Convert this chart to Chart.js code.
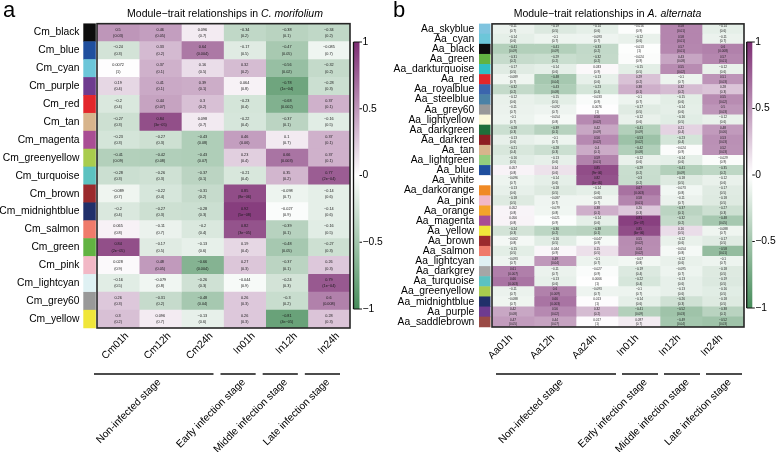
<!DOCTYPE html>
<html><head><meta charset="utf-8">
<script src="https://cdn.jsdelivr.net/npm/chart.js@4.4.1/dist/chart.umd.min.js"></script>
<style>
html,body{margin:0;padding:0;background:#fff;}
#wrap{position:relative;width:777px;height:452px;overflow:hidden;background:#fff;}
canvas{position:absolute;top:0;}
#ca{left:0;} #cb{left:390px;}
</style></head><body>
<div id="wrap"><canvas id="ca" width="390" height="452"></canvas><canvas id="cb" width="387" height="452"></canvas></div>
<script>
// ---------------- Panel a data (C. morifolium) ----------------
const modulesA = ['Cm_black','Cm_blue','Cm_cyan','Cm_purple','Cm_red','Cm_tan','Cm_magenta','Cm_greenyellow','Cm_turquoise','Cm_brown','Cm_midnightblue','Cm_salmon','Cm_green','Cm_pink','Cm_lightcyan','Cm_grey60','Cm_yellow'];
const moduleColorsA = ['#0d0d0d','#1f4f9e','#6cc6d9','#6e3b8f','#e3262b','#d7b48c','#a94d94','#a9cc4e','#5cc2c0','#9b2a2d','#21306a','#ef7b6b','#62b342','#f2b8c6','#dff1f3','#999999','#f0e63a'];
const traitsA = ['Cm01h','Cm12h','Cm24h','In01h','In12h','In24h'];
const rA_Cm01h = [0.5,-0.24,0.0072,0.19,-0.2,-0.27,-0.23,-0.41,-0.28,-0.089,-0.2,0.065,0.84,0.028,-0.16,0.26,0.3];
const pA_Cm01h = ['0.03','0.3','1','0.4','0.4','0.3','0.3','0.09','0.3','0.7','0.4','0.8','2e−05','0.9','0.5','0.3','0.2'];
const rA_Cm12h = [0.46,0.33,0.37,0.41,0.44,0.84,-0.27,-0.42,-0.26,-0.22,-0.27,-0.11,-0.17,0.48,-0.079,-0.31,0.096];
const pA_Cm12h = ['0.05','0.2','0.1','0.1','0.07','3e−05','0.3','0.08','0.3','0.4','0.3','0.7','0.5','0.05','0.8','0.2','0.7'];
const rA_Cm24h = [0.096,0.64,0.16,0.39,0.3,0.098,-0.43,-0.43,-0.37,-0.31,-0.28,-0.2,-0.13,-0.66,-0.26,-0.48,-0.13];
const pA_Cm24h = ['0.7','0.004','0.5','0.1','0.2','0.7','0.08','0.07','0.1','0.2','0.3','0.4','0.6','0.004','0.3','0.04','0.6'];
const rA_In01h = [-0.34,-0.17,0.32,0.064,-0.23,-0.22,0.46,0.23,-0.21,0.85,0.92,0.82,0.19,0.27,-0.044,0.26,0.26];
const pA_In01h = ['0.2','0.5','0.2','0.8','0.4','0.4','0.06','0.4','0.4','8e−06','5e−08','3e−05','0.4','0.3','0.9','0.3','0.3'];
const rA_In12h = [-0.38,-0.47,-0.56,-0.78,-0.68,-0.37,0.1,0.66,0.35,-0.098,-0.027,-0.39,-0.48,-0.37,-0.24,-0.3,-0.81];
const pA_In12h = ['0.1','0.05','0.02','1e−04','0.002','0.1','0.7','0.003','0.2','0.7','0.9','0.1','0.05','0.1','0.3','0.2','4e−05'];
const rA_In24h = [-0.34,-0.085,-0.32,-0.28,0.37,-0.16,0.37,0.37,0.77,-0.14,-0.14,-0.16,-0.27,0.26,0.79,0.6,0.28];
const pA_In24h = ['0.2','0.7','0.2','0.3','0.1','0.5','0.1','0.1','2e−04','0.6','0.6','0.5','0.3','0.3','1e−04','0.008','0.3'];

// ---------------- Panel b data (A. alternata) ----------------
const modulesB = ['Aa_skyblue','Aa_cyan','Aa_black','Aa_green','Aa_darkturquoise','Aa_red','Aa_royalblue','Aa_steelblue','Aa_grey60','Aa_lightyellow','Aa_darkgreen','Aa_darkred','Aa_tan','Aa_lightgreen','Aa_blue','Aa_white','Aa_darkorange','Aa_pink','Aa_orange','Aa_magenta','Aa_yellow','Aa_brown','Aa_salmon','Aa_lightcyan','Aa_darkgrey','Aa_turquoise','Aa_greenyellow','Aa_midnightblue','Aa_purple','Aa_saddlebrown'];
const moduleColorsB = ['#7fc4df','#6cc6d9','#0d0d0d','#62b342','#2fbfc4','#e3262b','#3b65ad','#4a82a6','#999999','#fbf8d9','#1f6e3a','#8e1c22','#d7b48c','#93cd7e','#1f4f9e','#ffffff','#f08a25','#f2b8c6','#f4a32a','#a94d94','#f0e63a','#9b2a2d','#ef7b6b','#dff1f3','#a6a6a6','#5cc2c0','#a9cc4e','#21306a','#6e3b8f','#9a4a45'];
const traitsB = ['Aa01h','Aa12h','Aa24h','In01h','In12h','In24h'];
const rB_Aa01h = [-0.11,-0.14,-0.41,-0.31,-0.17,-0.089,-0.32,-0.12,-0.11,-0.1,-0.28,-0.13,-0.21,-0.16,0.057,-0.096,-0.13,-0.18,0.052,0.056,-0.24,-0.062,-0.15,-0.093,0.61,0.66,-0.11,-0.088,0.42,0.47];
const pB_Aa01h = ['0.7','0.6','0.09','0.2','0.5','0.7','0.2','0.6','0.7','0.7','0.3','0.6','0.4','0.5','0.8','0.7','0.6','0.5','0.8','0.8','0.3','0.8','0.5','0.7','0.007','0.003','0.7','0.7','0.08','0.05'];
const rB_Aa12h = [-0.19,-0.1,-0.41,-0.29,-0.14,-0.48,-0.43,-0.15,-0.092,-0.054,-0.39,-0.1,-0.28,-0.13,0.14,-0.14,-0.18,-0.087,-0.079,-0.021,-0.36,-0.16,0.044,0.49,-0.11,-0.13,0.6,0.66,0.56,0.44];
const pB_Aa12h = ['0.5','0.7','0.09','0.2','0.6','0.04','0.08','0.5','0.7','0.8','0.1','0.7','0.3','0.6','0.6','0.6','0.5','0.7','0.8','0.9','0.2','0.5','0.9','0.04','0.7','0.6','0.009','0.003','0.02','0.07'];
const rB_Aa24h = [-0.14,-0.093,-0.33,-0.32,0.033,-0.13,-0.23,-0.033,0.0076,0.56,0.42,0.56,0.4,0.59,0.85,0.82,-0.14,-0.083,0.38,-0.14,-0.38,-0.047,0.15,-0.1,-0.027,0.0066,-0.093,0.013,0.32,0.017];
const pB_Aa24h = ['0.6','0.7','0.2','0.2','0.9','0.6','0.4','0.9','1','0.02','0.09','0.02','0.1','0.01','9e−06','4e−05','0.6','0.7','0.1','0.6','0.1','0.9','0.5','0.7','0.9','1','0.7','1','0.2','1'];
const rB_In01h = [-0.016,-0.12,-0.013,-0.024,-0.15,0.29,0.38,-0.1,-0.17,-0.12,-0.41,-0.53,-0.42,-0.12,-0.29,-0.3,0.67,0.58,0.26,0.91,0.85,0.55,0.54,-0.07,-0.19,-0.22,-0.1,-0.14,-0.41,0.097];
const pB_In01h = ['0.9','0.6','1','0.9','0.5','0.2','0.1','0.7','0.5','0.6','0.09','0.02','0.08','0.6','0.2','0.2','0.003','0.01','0.3','2e−07','6e−06','0.02','0.02','0.8','0.4','0.4','0.7','0.6','0.09','0.7'];
const rB_In12h = [0.58,0.58,0.57,0.43,0.55,-0.1,0.32,-0.15,-0.14,-0.16,0.21,-0.23,-0.024,-0.14,-0.41,-0.18,-0.073,-0.11,-0.37,-0.32,0.16,-0.12,-0.054,-0.12,-0.095,-0.13,-0.13,-0.26,-0.52,-0.49];
const pB_In12h = ['0.01','0.01','0.01','0.08','0.02','0.7','0.2','0.6','0.6','0.5','0.4','0.4','0.9','0.6','0.09','0.5','0.8','0.7','0.1','0.2','0.5','0.6','0.8','0.6','0.7','0.6','0.6','0.3','0.03','0.04'];
const rB_In24h = [-0.14,-0.11,0.6,0.57,-0.12,0.51,0.28,0.55,0.5,-0.12,0.48,0.53,0.52,-0.029,-0.35,-0.12,-0.17,-0.18,-0.27,-0.48,-0.088,-0.17,-0.58,-0.1,-0.18,-0.19,-0.16,-0.18,-0.38,-0.52];
const pB_In24h = ['0.6','0.7','0.008','0.01','0.6','0.03','0.3','0.02','0.03','0.6','0.06','0.03','0.03','0.9','0.2','0.6','0.5','0.5','0.3','0.05','0.7','0.5','0.01','0.7','0.5','0.5','0.5','0.5','0.1','0.03'];

// ---------------- shared ----------------
const groupNames = ['Non-infected stage','Early infection stage','Middle infection stage','Late infection stage'];
const groupSpans = [[0,3],[3,4],[4,5],[5,6]];
const colorbarTicks = [1,0.5,0,-0.5,-1];

const corrA = [rA_Cm01h,rA_Cm12h,rA_Cm24h,rA_In01h,rA_In12h,rA_In24h];
const pvalA = [pA_Cm01h,pA_Cm12h,pA_Cm24h,pA_In01h,pA_In12h,pA_In24h];
const corrB = [rB_Aa01h,rB_Aa12h,rB_Aa24h,rB_In01h,rB_In12h,rB_In24h];
const pvalB = [pB_Aa01h,pB_Aa12h,pB_Aa24h,pB_In01h,pB_In12h,pB_In24h];

const FONT = "'Liberation Sans', Arial, Helvetica, sans-serif";
const POS = [125, 45, 115], NEG = [70, 140, 90];
function colorFor(v){
  const e = v >= 0 ? POS : NEG, t = Math.min(1, Math.abs(v));
  const c = e.map(k => Math.round(255 - t * (255 - k)));
  return 'rgb(' + c.join(',') + ')';
}
function fmt(v){ return String(v).replace('-', '\u2212'); }

const heatDecor = {
  id: 'heatDecor',
  afterDatasetsDraw(chart, args, o) {
    const ctx = chart.ctx, xs = chart.scales.x, ys = chart.scales.y, ca = chart.chartArea;
    const n = o.modules.length, rowH = (ca.bottom - ca.top) / n;
    ctx.save();
    // cell texts
    ctx.fillStyle = '#1a1a1a';
    ctx.textAlign = 'center'; ctx.textBaseline = 'middle';
    ctx.font = o.cellFont + 'px ' + FONT;
    o.corr.forEach((col, c) => {
      const cx = xs.getPixelForValue(c + 0.5);
      col.forEach((v, r) => {
        const cy = ys.getPixelForValue(r);
        ctx.fillText(fmt(v), cx, cy - o.cellGap);
        ctx.fillText('(' + o.pvals[c][r] + ')', cx, cy + o.cellGap);
      });
    });
    // module colour strip
    o.moduleColors.forEach((col, r) => {
      const cy = ys.getPixelForValue(r);
      ctx.fillStyle = col;
      ctx.fillRect(ca.left - o.stripL, cy - rowH / 2 - 0.25, o.stripW, rowH + 0.5);
    });
    // heatmap frame
    ctx.strokeStyle = '#262626'; ctx.lineWidth = 1.6;
    ctx.strokeRect(ca.left, ca.top, ca.right - ca.left, ca.bottom - ca.top);

    // colour bar
    const cb = o.cbar;
    const g = ctx.createLinearGradient(0, cb.top, 0, cb.bottom);
    g.addColorStop(0, colorFor(1)); g.addColorStop(0.5, '#ffffff'); g.addColorStop(1, colorFor(-1));
    ctx.fillStyle = g;
    ctx.fillRect(cb.x, cb.top, cb.w, cb.bottom - cb.top);
    ctx.strokeStyle = '#111'; ctx.lineWidth = 1.3;
    ctx.beginPath(); ctx.moveTo(cb.x, cb.top); ctx.lineTo(cb.x, cb.bottom); ctx.stroke();
    ctx.lineWidth = 1;
    ctx.fillStyle = '#000'; ctx.font = o.labelFont + 'px ' + FONT;
    ctx.textAlign = 'left'; ctx.textBaseline = 'middle';
    colorbarTicks.forEach(t => {
      const y = cb.top + (1 - t) / 2 * (cb.bottom - cb.top);
      const x0 = (t === 1 || t === -1) ? cb.x : cb.x + cb.w;
      ctx.beginPath(); ctx.moveTo(x0, y); ctx.lineTo(cb.x + cb.w + 2.5, y); ctx.stroke();
      ctx.fillText(fmt(t), cb.x + cb.w + 3, y);
    });

    // group lines and labels
    ctx.strokeStyle = '#111'; ctx.lineWidth = 1.5;
    groupNames.forEach((name, i) => {
      const sp = groupSpans[i];
      const x0 = xs.getPixelForValue(sp[0]) + o.lineOff[0];
      const x1 = xs.getPixelForValue(sp[1]) + o.lineOff[1];
      ctx.beginPath(); ctx.moveTo(x0, o.lineY); ctx.lineTo(x1, o.lineY); ctx.stroke();
      ctx.save();
      ctx.translate((x0 + x1) / 2 + 2, o.lineY + 3);
      ctx.rotate(-Math.PI / 4);
      ctx.textAlign = 'right'; ctx.textBaseline = 'top';
      ctx.fillText(name, 0, 0);
      ctx.restore();
    });

    // title
    ctx.textAlign = 'left'; ctx.textBaseline = 'alphabetic';
    ctx.font = o.titleFont + 'px ' + FONT;
    const w1 = ctx.measureText(o.title[0]).width;
    ctx.font = 'italic ' + o.titleFont + 'px ' + FONT;
    const w2 = ctx.measureText(o.title[1]).width;
    const tx = o.titleX - (w1 + w2) / 2;
    ctx.font = o.titleFont + 'px ' + FONT;
    ctx.fillText(o.title[0], tx, o.titleY);
    ctx.font = 'italic ' + o.titleFont + 'px ' + FONT;
    ctx.fillText(o.title[1], tx + w1, o.titleY);
    // panel letter
    ctx.font = '22px ' + FONT;
    ctx.fillText(o.letter, 3, 17);
    ctx.restore();
  }
};

function makeChart(id, p) {
  const datasets = p.corr.map((col, c) => ({
    label: p.traits[c],
    data: col.map(() => [c, c + 1]),
    backgroundColor: col.map(v => colorFor(v)),
    borderWidth: 0,
    barPercentage: 1,
    categoryPercentage: 1,
    grouped: false
  }));
  return new Chart(document.getElementById(id), {
    type: 'bar',
    data: { labels: p.modules, datasets },
    plugins: [heatDecor],
    options: {
      indexAxis: 'y',
      responsive: false,
      devicePixelRatio: 1,
      animation: false,
      events: [],
      layout: { padding: { left: 0, right: p.padRight, top: p.padTop, bottom: 0 } },
      scales: {
        x: {
          type: 'linear', min: 0, max: 6,
          grid: { display: false, drawTicks: false },
          border: { display: false },
          afterBuildTicks: s => { s.ticks = p.traits.map((t, i) => ({ value: i + 0.5 })); },
          afterFit: s => { s.height = p.xAxisH; },
          ticks: {
            autoSkip: false, minRotation: 45, maxRotation: 45,
            padding: p.xTickPad, labelOffset: p.xLabelOffset,
            color: '#000', font: { family: FONT, size: 10.3 },
            callback: v => p.traits[Math.floor(v)]
          }
        },
        y: {
          type: 'category',
          grid: { display: false, drawTicks: false },
          border: { display: false },
          afterFit: s => { s.width = p.yAxisW; },
          ticks: { autoSkip: false, padding: p.yTickPad, color: '#000', font: { family: FONT, size: 10.3 } }
        }
      },
      plugins: {
        legend: { display: false },
        tooltip: { enabled: false },
        title: { display: false },
        heatDecor: {
          modules: p.modules, moduleColors: p.moduleColors, corr: p.corr, pvals: p.pvals,
          cellFont: p.cellFont, cellGap: p.cellGap, stripL: p.stripL, stripW: p.stripW,
          cbar: p.cbar, labelFont: 10.3, lineY: 374, lineOff: p.lineOff,
          title: p.title, titleX: p.titleX, titleY: 16.5, titleFont: 10.5, letter: p.letter
        }
      }
    }
  });
}

makeChart('ca', {
  modules: modulesA, moduleColors: moduleColorsA, traits: traitsA, corr: corrA, pvals: pvalA,
  padRight: 40, padTop: 23.5, xAxisH: 124, yAxisW: 97, xTickPad: 2, xLabelOffset: 9, yTickPad: 17.5,
  cellFont: 3.8, cellGap: 3.1, stripL: 13.7, stripW: 12.5,
  cbar: { x: 353.5, w: 6, top: 42, bottom: 309 },
  lineOff: [-3, -10],
  title: ['Module\u2212trait relationships in ', 'C. morifolium'], titleX: 225, letter: 'a'
});
makeChart('cb', {
  modules: modulesB, moduleColors: moduleColorsB, traits: traitsB, corr: corrB, pvals: pvalB,
  padRight: 33, padTop: 22.7, xAxisH: 125, yAxisW: 102, xTickPad: 5, xLabelOffset: -2, yTickPad: 17.7,
  cellFont: 3.1, cellGap: 2.3, stripL: 13, stripW: 11.5,
  cbar: { x: 356.7, w: 5.6, top: 42, bottom: 308 },
  lineOff: [4, -2],
  title: ['Module\u2212trait relationships in ', 'A. alternata'], titleX: 217.5, letter: 'b'
});
</script>
</body></html>
